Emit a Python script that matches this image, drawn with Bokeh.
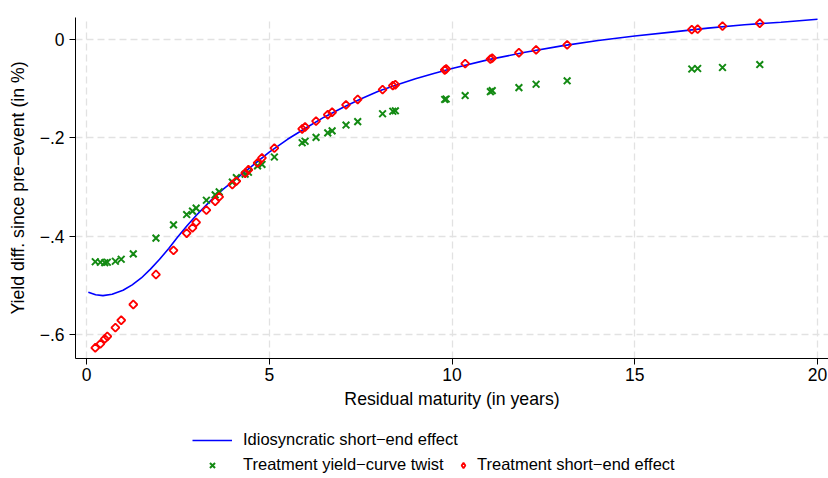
import math
from bokeh.plotting import figure
from bokeh.layouts import column
from bokeh.models import Range1d, FixedTicker, Legend, LegendItem
from bokeh.embed import file_html
from bokeh.resources import INLINE

# Idiosyncratic short-end effect (smooth curve)
curve_x = [0.05, 0.25, 0.45, 0.7, 1.0, 1.25, 1.5, 1.75, 2.0, 2.25, 2.5, 2.75, 3.0,
           3.25, 3.5, 3.75, 4.0, 4.5, 5.0, 5.5, 6.0, 6.5, 7.0, 7.5, 8.0, 8.5, 9.0,
           9.5, 10.0, 11.0, 12.0, 13.0, 14.0, 15.0, 16.0, 17.0, 18.0, 19.0, 20.0]
curve_y = [-0.514, -0.519, -0.521, -0.518, -0.510, -0.499, -0.485, -0.467, -0.447,
           -0.425, -0.401, -0.379, -0.358, -0.339, -0.320, -0.304, -0.289, -0.259,
           -0.229, -0.203, -0.180, -0.158, -0.139, -0.121, -0.105, -0.092, -0.080,
           -0.069, -0.059, -0.041, -0.026, -0.013, -0.002, 0.007, 0.015, 0.023,
           0.030, 0.035, 0.041]

# Residual maturities of the bonds
maturity = [0.24, 0.38, 0.50, 0.57, 0.79, 0.95, 1.28, 1.90, 2.38, 2.74, 2.90, 3.00,
            3.28, 3.52, 3.63, 3.99, 4.10, 4.34, 4.43, 4.68, 4.80, 5.14, 5.90, 5.98,
            6.28, 6.60, 6.72, 7.10, 7.42, 8.10, 8.38, 8.45, 9.80, 9.84, 10.36, 11.05,
            11.10, 11.83, 12.30, 13.15, 16.56, 16.72, 17.40, 18.42]

# Treatment yield-curve twist
twist_y = [-0.452, -0.453, -0.454, -0.453, -0.451, -0.447, -0.436, -0.404, -0.377,
           -0.356, -0.349, -0.343, -0.327, -0.316, -0.310, -0.290, -0.281, -0.274,
           -0.270, -0.257, -0.254, -0.239, -0.210, -0.207, -0.199, -0.190, -0.186,
           -0.174, -0.167, -0.151, -0.146, -0.145, -0.122, -0.121, -0.114, -0.106,
           -0.104, -0.098, -0.091, -0.084, -0.060, -0.059, -0.057, -0.051]

# Treatment short-end effect
short_y = [-0.627, -0.619, -0.609, -0.604, -0.586, -0.571, -0.539, -0.478, -0.429,
           -0.394, -0.383, -0.372, -0.347, -0.329, -0.320, -0.295, -0.288, -0.272,
           -0.265, -0.251, -0.241, -0.221, -0.182, -0.178, -0.166, -0.153, -0.148,
           -0.133, -0.122, -0.102, -0.094, -0.092, -0.062, -0.060, -0.049, -0.040,
           -0.038, -0.027, -0.021, -0.011, 0.020, 0.021, 0.027, 0.033]

x_ticks = [0, 5, 10, 15, 20]
y_ticks = [-0.6, -0.4, -0.2, 0.0]
y_tick_labels = ["\u2212.6", "\u2212.4", "\u2212.2", "0"]

label_line = "Idiosyncratic short\u2212end effect"
label_twist = "Treatment yield\u2212curve twist"
label_short = "Treatment short\u2212end effect"

FONT = "Liberation Sans"
BLUE = "#0000ff"
GREEN = "#138a13"
RED = "#ff0000"

p = figure(width=828, height=420, output_backend="svg", toolbar_location=None,
           x_range=Range1d(-0.301, 20.30), y_range=Range1d(-0.6488, 0.0447),
           min_border_left=75, min_border_right=0, min_border_top=17,
           min_border_bottom=62)
p.outline_line_color = None
p.background_fill_color = "white"
p.border_fill_color = "white"

for ax in (p.xaxis[0], p.yaxis[0]):
    ax.axis_line_color = "black"
    ax.axis_line_width = 1
    ax.major_tick_line_color = "black"
    ax.major_tick_out = 6
    ax.major_tick_in = 0
    ax.minor_tick_line_color = None
    ax.major_label_text_font = FONT
    ax.major_label_text_font_size = "17.5px"
    ax.major_label_text_color = "black"
    ax.axis_label_text_font = FONT
    ax.axis_label_text_font_size = "17.7px"
    ax.axis_label_text_font_style = "normal"
    ax.axis_label_text_color = "black"

p.xaxis.ticker = FixedTicker(ticks=x_ticks)
p.yaxis.ticker = FixedTicker(ticks=y_ticks)
p.yaxis.major_label_overrides = {v: s for v, s in zip(y_ticks, y_tick_labels)}
p.yaxis.major_label_orientation = "horizontal"
p.xaxis.major_label_standoff = 3
p.yaxis.major_label_standoff = 5
p.xaxis.axis_label = "Residual maturity (in years)"
p.yaxis.axis_label = "Yield diff. since pre\u2212event (in %)"
p.xaxis.axis_label_standoff = 5
p.yaxis.axis_label_standoff = 9

for g in (p.xgrid[0], p.ygrid[0]):
    g.grid_line_color = "#e2e2e2"
    g.grid_line_width = 1.3
    g.grid_line_dash = "7 4"

line_kw = dict(line_color=BLUE, line_width=1.6)
twist_kw = dict(marker="x", line_color=GREEN, line_width=2.0)
short_kw = dict(line_color=RED, fill_alpha=0, line_width=1.8)

p.line(curve_x, curve_y, **line_kw)
p.scatter(maturity, twist_y, size=9.5, **twist_kw)
p.scatter(maturity, short_y, size=5.7, marker="square", angle=math.pi / 4, **short_kw)

# Legend strip below the chart: same series, drawn in a view range that shows
# none of the data, so that only the legend keys appear.
q = figure(width=828, height=58, output_backend="svg", toolbar_location=None,
           x_range=Range1d(100, 101), y_range=Range1d(100, 101),
           min_border_left=0, min_border_right=0, min_border_top=0,
           min_border_bottom=0)
q.axis.visible = False
q.grid.visible = False
q.outline_line_color = None
q.background_fill_color = "white"
q.border_fill_color = "white"

k_line = q.line(curve_x, curve_y, **line_kw)
k_twist = q.scatter(maturity, twist_y, size=9.5, **twist_kw)
k_short = q.scatter(maturity, short_y, size=6, marker="diamond", **short_kw)


def make_legend(item, loc, gw, standoff):
    return Legend(items=[item], location=loc, orientation="horizontal",
                  glyph_width=gw, glyph_height=18, label_standoff=standoff,
                  padding=0, margin=0, spacing=0,
                  border_line_alpha=0, background_fill_alpha=0,
                  label_text_font=FONT, label_text_font_size="16.5px",
                  label_text_color="black", label_height=18)


q.add_layout(make_legend(LegendItem(label=label_line, renderers=[k_line]),
                         (117, 29), 40, 11), "center")
q.add_layout(make_legend(LegendItem(label=label_twist, renderers=[k_twist]),
                         (117, 4), 40, 11), "center")
q.add_layout(make_legend(LegendItem(label=label_short, renderers=[k_short]),
                         (381, 4), 14, 7), "center")

layout = column(p, q, spacing=0)
open("out.html", "w").write(file_html(layout, INLINE))
